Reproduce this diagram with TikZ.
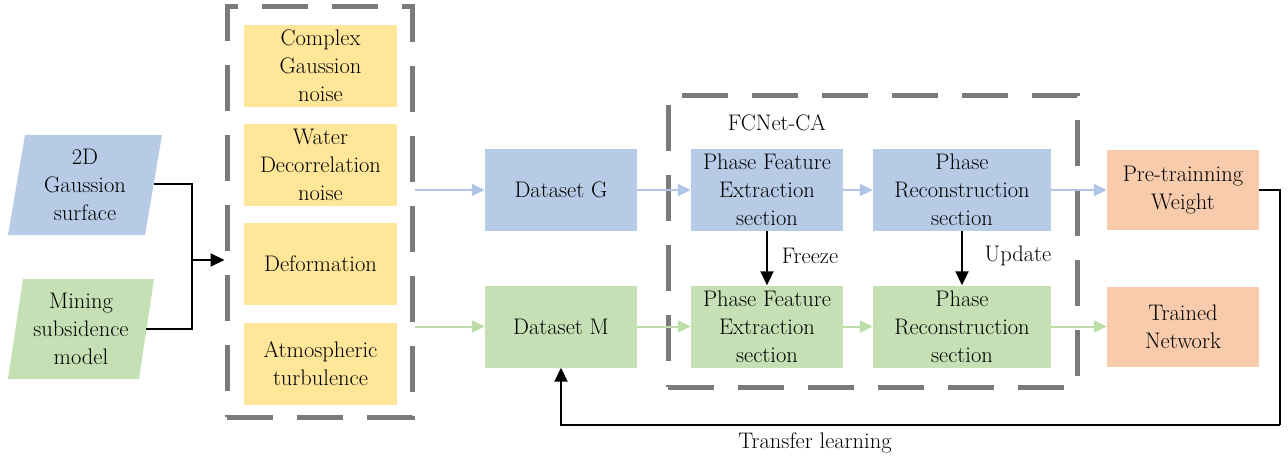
\documentclass[tikz,border=0pt]{standalone}
\usepackage{fontspec}
\usetikzlibrary{arrows.meta}
\definecolor{bfill}{HTML}{B7CBE6}
\definecolor{gfill}{HTML}{C5E0B4}
\definecolor{yfill}{HTML}{FFE699}
\definecolor{ofill}{HTML}{F8CBAD}
\definecolor{bline}{HTML}{AFC4E6}
\definecolor{gline}{HTML}{BCDCA8}
\definecolor{dgray}{HTML}{7A7A7A}
\begin{document}
\begin{tikzpicture}[x=1pt,y=-1pt,
  txt/.style={font=\rmfamily\fontsize{22.5}{28}\selectfont, align=center, inner sep=0pt},
  box/.style={txt, minimum width=152pt, minimum height=82pt},
  ybox/.style={box, fill=yfill, minimum width=153pt},
  bbox/.style={box, fill=bfill},
  gbox/.style={box, fill=gfill},
  obox/.style={box, fill=ofill, minimum height=80pt},
  dbox/.style={draw=dgray, line width=5pt, dash pattern=on 46pt off 24pt, inner sep=0pt},
  barrow/.style={draw=bline, line width=2pt, -{Triangle[length=13pt,width=12pt]}},
  garrow/.style={draw=gline, line width=2pt, -{Triangle[length=13pt,width=12pt]}},
  karrow/.style={draw=black, line width=2pt, -{Triangle[length=14pt,width=13pt]}},
  kline/.style={draw=black, line width=2pt},
]
\useasboundingbox (0,0) rectangle (1288,459);

% dashed groups
\node[dbox, minimum width=185pt, minimum height=411pt] (noisebox) at (319.5,211.5) {};
\node[dbox, minimum width=409pt, minimum height=292pt] (fcbox) at (872.5,241) {};

% input parallelograms
\fill[bfill] (8,235) -- (25,135) -- (162,135) -- (145,235) -- cycle;
\node[txt] (gauss) at (85,185) {2D\\Gaussion\\surface};
\fill[gfill] (8,379) -- (23,279) -- (154,279) -- (139,379) -- cycle;
\node[txt] (mine) at (81,329) {Mining\\subsidence\\model};

% noise boxes
\node[ybox] (n1) at (320.5,65.5) {Complex\\Gaussion\\noise};
\node[ybox] (n2) at (320.5,164.5) {Water\\Decorrelation\\noise};
\node[ybox] (n3) at (320.5,264) {Deformation};
\node[ybox] (n4) at (320.5,363.5) {Atmospheric\\turbulence};

% datasets
\node[bbox] (dsG) at (561,190) {Dataset G};
\node[gbox] (dsM) at (561,326.5) {Dataset M};

% network sections
\node[txt] (fclabel) at (777,123) {FCNet-CA};
\node[bbox] (pfeG) at (767,190) {Phase Feature\\Extraction\\section};
\node[bbox, minimum width=178pt] (prG) at (962,190) {Phase\\Reconstruction\\section};
\node[gbox] (pfeM) at (767,326.5) {Phase Feature\\Extraction\\section};
\node[gbox, minimum width=178pt] (prM) at (962,326.5) {Phase\\Reconstruction\\section};

% outputs
\node[obox] (pre) at (1183,190) {Pre-trainning\\Weight};
\node[obox] (trained) at (1183,326.5) {Trained\\Network};

% input merge
\coordinate (gaussR) at (154,184);
\coordinate (mineR) at (146,329);
\coordinate (jn) at (192,260);
\draw[kline] (gaussR) -| (jn);
\draw[kline] (mineR) -| (jn);
\draw[karrow] (jn) -- (jn -| noisebox.west);

% colored flows
\draw[barrow] (noisebox.east |- dsG.west) -- (dsG.west);
\draw[barrow] (dsG.east) -- (pfeG.west);
\draw[barrow] (pfeG.east) -- (prG.west);
\draw[barrow] (prG.east) -- (pre.west);
\draw[garrow] (noisebox.east |- dsM.west) -- (dsM.west);
\draw[garrow] (dsM.east) -- (pfeM.west);
\draw[garrow] (pfeM.east) -- (prM.west);
\draw[garrow] (prM.east) -- (trained.west);

% freeze / update
\draw[karrow] (pfeG.south) -- (pfeM.north);
\node[txt] (freeze) at (810,256) {Freeze};
\draw[karrow] (prG.south) -- (prM.north);
\node[txt] (update) at (1018,256) {Update};

% transfer learning
\coordinate (tr1) at (1280,425);
\draw[kline] (pre.east) -| (tr1);
\draw[karrow] (tr1) -| (dsM.south);
\node[txt] (transfer) at (815,443) {Transfer learning};
\end{tikzpicture}
\end{document}
